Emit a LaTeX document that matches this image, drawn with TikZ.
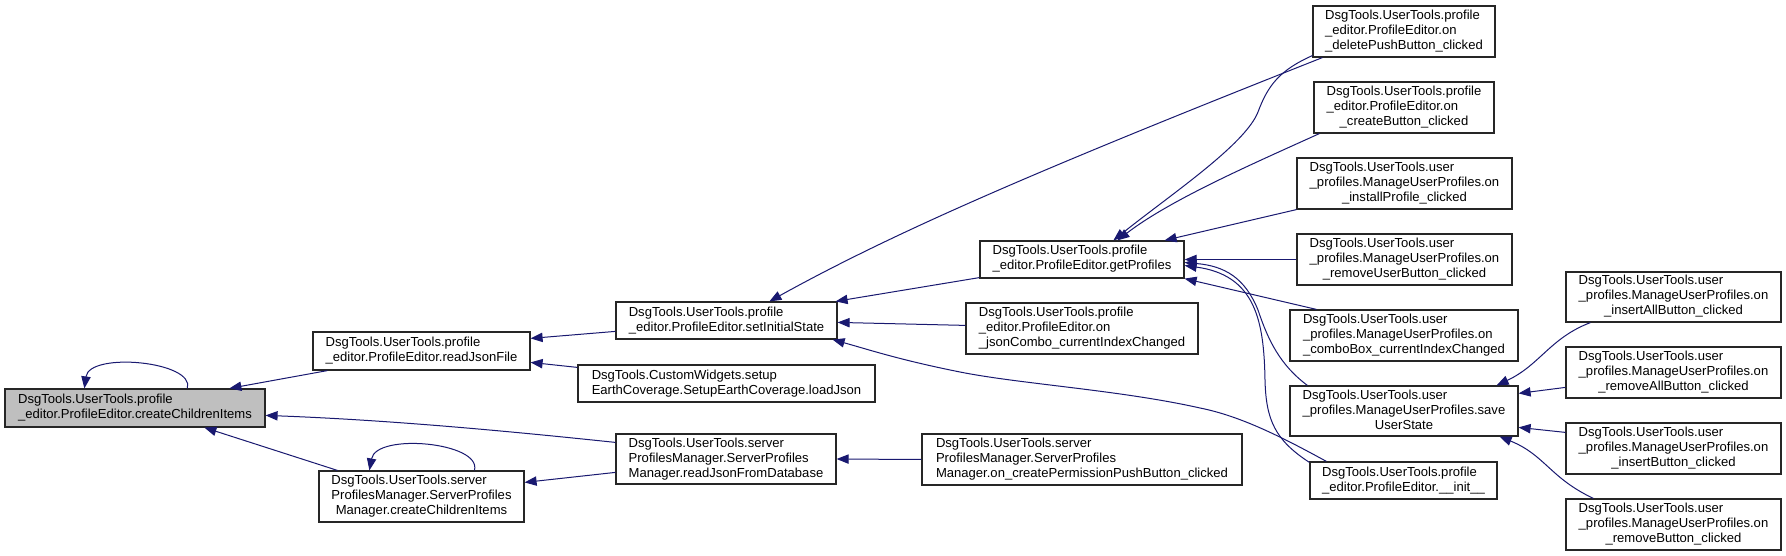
\documentclass[tikz,border=0pt]{standalone}
\usepackage{fontspec}
\setmainfont{Liberation Sans}
\usetikzlibrary{arrows.meta,calc}
\definecolor{edgeblue}{HTML}{191970}
\definecolor{hlgray}{HTML}{BFBFBF}
\newcommand\Lb[1]{\begin{tabular}{@{}l@{}}#1\end{tabular}}
\newcommand\Cl[1]{\multicolumn{1}{@{}c@{}}{#1}}
\begin{document}
\begin{tikzpicture}[x=0.75pt,y=-0.75pt,
  fn/.style 2 args={draw=black!85, line width=0.9pt, inner sep=0pt,
    minimum width=#1*0.75pt, minimum height=#2*0.75pt,
    font=\fontsize{9.8pt}{11.25pt}\selectfont},
  edge/.style={draw=edgeblue, line width=0.75pt, -{Triangle[length=9pt,width=7pt]}}]
\useasboundingbox (0,0) rectangle (1786,556);
\fill[white] (0,0) rectangle (1786,556);

% nodes
\node[fn={260}{38}, fill=hlgray] (cci) at (135,408) {\Lb{DsgTools.UserTools.profile\\\_editor.ProfileEditor.createChildrenItems}};
\node[fn={217}{38}] (rjf) at (421.5,351) {\Lb{DsgTools.UserTools.profile\\\_editor.ProfileEditor.readJsonFile}};
\node[fn={205}{51}] (scci) at (421.5,496.5) {\Lb{DsgTools.UserTools.server\\ProfilesManager.ServerProfiles\\\Cl{Manager.createChildrenItems}}};
\node[fn={221}{37}] (sis) at (726.5,320.5) {\Lb{DsgTools.UserTools.profile\\\_editor.ProfileEditor.setInitialState}};
\node[fn={297}{37}] (lj) at (726.5,383.5) {\Lb{DsgTools.CustomWidgets.setup\\EarthCoverage.SetupEarthCoverage.loadJson}};
\node[fn={220}{50}] (rjd) at (726,459) {\Lb{DsgTools.UserTools.server\\ProfilesManager.ServerProfiles\\Manager.readJsonFromDatabase}};
\node[fn={204}{37}] (gp) at (1082,259.5) {\Lb{DsgTools.UserTools.profile\\\_editor.ProfileEditor.getProfiles}};
\node[fn={232}{51}] (jc) at (1082,328.5) {\Lb{DsgTools.UserTools.profile\\\_editor.ProfileEditor.on\\\_jsonCombo\_currentIndexChanged}};
\node[fn={320}{51}] (cp) at (1082,459.5) {\Lb{DsgTools.UserTools.server\\ProfilesManager.ServerProfiles\\Manager.on\_createPermissionPushButton\_clicked}};
\node[fn={182}{51}] (dp) at (1404,31.5) {\Lb{DsgTools.UserTools.profile\\\_editor.ProfileEditor.on\\\Cl{\_deletePushButton\_clicked}}};
\node[fn={180}{51}] (cb) at (1404,107.5) {\Lb{DsgTools.UserTools.profile\\\_editor.ProfileEditor.on\\\Cl{\_createButton\_clicked}}};
\node[fn={215}{51}] (ip) at (1404.5,183.5) {\Lb{DsgTools.UserTools.user\\\_profiles.ManageUserProfiles.on\\\Cl{\_installProfile\_clicked}}};
\node[fn={215}{51}] (ru) at (1404.5,259.5) {\Lb{DsgTools.UserTools.user\\\_profiles.ManageUserProfiles.on\\\Cl{\_removeUserButton\_clicked}}};
\node[fn={228}{51}] (cbx) at (1404,335.5) {\Lb{DsgTools.UserTools.user\\\_profiles.ManageUserProfiles.on\\\_comboBox\_currentIndexChanged}};
\node[fn={228}{50}] (sus) at (1404,411) {\Lb{DsgTools.UserTools.user\\\_profiles.ManageUserProfiles.save\\\Cl{UserState}}};
\node[fn={187}{37}] (init) at (1403.5,480.5) {\Lb{DsgTools.UserTools.profile\\\_editor.ProfileEditor.\_\_init\_\_}};
\node[fn={215}{50}] (ia) at (1673.5,297) {\Lb{DsgTools.UserTools.user\\\_profiles.ManageUserProfiles.on\\\Cl{\_insertAllButton\_clicked}}};
\node[fn={215}{51}] (ra) at (1673.5,372.5) {\Lb{DsgTools.UserTools.user\\\_profiles.ManageUserProfiles.on\\\Cl{\_removeAllButton\_clicked}}};
\node[fn={215}{51}] (ib) at (1673.5,448.5) {\Lb{DsgTools.UserTools.user\\\_profiles.ManageUserProfiles.on\\\Cl{\_insertButton\_clicked}}};
\node[fn={215}{51}] (rb) at (1673.5,524.5) {\Lb{DsgTools.UserTools.user\\\_profiles.ManageUserProfiles.on\\\Cl{\_removeButton\_clicked}}};

% edges (caller -> callee, arrowhead at callee)
\draw[edge] ($(cci.north west)+(183,0)$) .. controls +(8,-27) and +(5,-37) .. ($(cci.north west)+(80,0)$);
\draw[edge] ($(scci.north west)+(156,0)$) .. controls +(8,-28) and +(7,-38) .. ($(scci.north west)+(51,0)$);
\draw[edge] ($(rjf.south west)+(15,0)$) -- ($(cci.north west)+(225,0)$);
\draw[edge] ($(rjd.north west)+(0,9)$) .. controls +(-86,-9) and +(135,5) .. ($(cci.north east)+(0,27)$);
\draw[edge] ($(scci.north west)+(19,0)$) -- ($(cci.south west)+(200,0)$);
\draw[edge] ($(sis.north west)+(0,30)$) -- ($(rjf.north east)+(0,7)$);
\draw[edge] ($(lj.north west)+(0,3)$) -- ($(rjf.north east)+(0,31)$);
\draw[edge] ($(rjd.north west)+(0,39)$) -- ($(scci.north east)+(0,12)$);
\draw[edge] (cp.west) -- (rjd.east);
\draw[edge] ($(dp.south west)+(10,0)$) .. controls +(-273,108) and +(130,-72) .. ($(sis.north west)+(154,0)$);
\draw[edge] ($(gp.south west)+(0,-1)$) -- ($(sis.north east)+(-2,0)$);
\draw[edge] ($(jc.north west)+(0,23)$) -- ($(sis.north east)+(0,21)$);
\draw[edge] ($(init.north west)+(17,0)$) .. controls (1280,436) and (1240,416) .. (1200,408)
   .. controls (1120,390) and (1020,384) .. (960,372)
   .. controls (900,360) and (870,350) .. ($(sis.south east)+(-5,0)$);
\draw[edge] ($(dp.south west)+(0,-2)$) .. controls (1280,70) and (1268,85) .. (1258,112)
   .. controls (1245,145) and (1170,195) .. ($(gp.north west)+(134,0)$);
\draw[edge] ($(cb.south west)+(6,0)$) .. controls (1250,165) and (1170,200) .. ($(gp.north west)+(138,0)$);
\draw[edge] (ip.south west) -- ($(gp.north east)+(-20,0)$);
\draw[edge] (ru.west) -- (gp.east);
\draw[edge] ($(cbx.north west)+(27,0)$) -- (gp.south east);
\draw[edge] ($(sus.north west)+(18,0)$) .. controls (1280,365) and (1268,340) .. (1258,310)
   .. controls (1245,278) and (1225,266) .. ($(gp.east)+(0,3)$);
\draw[edge] ($(init.north west)+(0,1)$) .. controls (1275,440) and (1266,420) .. (1265,380)
   .. controls (1264,320) and (1255,275) .. ($(gp.east)+(0,6)$);
\draw[edge] ($(ia.south west)+(25,0)$) .. controls (1550,338) and (1540,365) .. ($(sus.north east)+(-22,0)$);
\draw[edge] ($(ra.north west)+(0,41)$) -- ($(sus.north east)+(0,8)$);
\draw[edge] ($(ib.north west)+(0,10)$) -- ($(sus.north east)+(0,42)$);
\draw[edge] ($(rb.north west)+(28,0)$) .. controls (1550,478) and (1545,455) .. ($(sus.south east)+(-19,0)$);
\end{tikzpicture}
\end{document}
